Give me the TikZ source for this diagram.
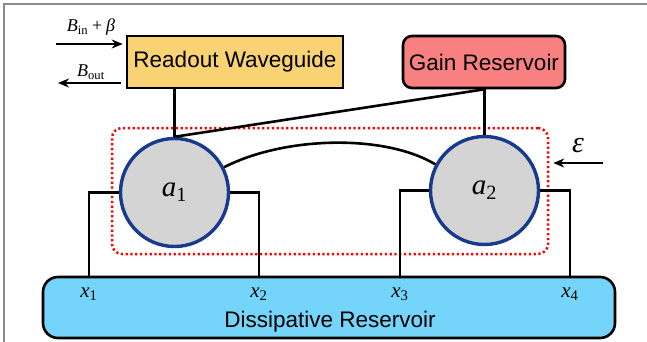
\documentclass[tikz,border=0pt]{standalone}
\usepackage{fontspec}
\setmainfont{Liberation Sans}
\newfontfamily\tms{Liberation Serif}
\newcommand\vsub[2]{{\tms\itshape #1}\textsubscript{\tms #2}}
\usetikzlibrary{arrows.meta}
\definecolor{roFill}{HTML}{F9D274}
\definecolor{gainFill}{HTML}{F88080}
\definecolor{bathFill}{HTML}{74D4FA}
\definecolor{modeFill}{HTML}{D4D4D4}
\definecolor{modeEdge}{HTML}{173A8C}
\definecolor{frameGray}{HTML}{8C8C8C}
\tikzset{
  boxlabel/.style={font=\fontsize{22.5}{24}\selectfont, text=black},
  roBox/.style={draw=black, line width=2.6pt, fill=roFill, boxlabel, minimum width=216pt, minimum height=52pt, inner sep=0pt},
  gainBox/.style={draw=black, line width=2.6pt, fill=gainFill, rounded corners=9pt, boxlabel, minimum width=162pt, minimum height=52pt, inner sep=0pt},
  bathBox/.style={draw=black, line width=2.6pt, fill=bathFill, rounded corners=15pt, minimum width=572pt, minimum height=61pt, inner sep=0pt},
  mode/.style={circle, draw=modeEdge, line width=3.4pt, fill=modeFill, minimum size=108pt, inner sep=0pt, font=\fontsize{29}{31}\selectfont},
  grpBox/.style={draw=red, line width=2.5pt, dash pattern=on 2.2pt off 2.6pt, rounded corners=10pt, minimum width=436pt, minimum height=126pt, inner sep=0pt},
  wire/.style={draw=black, line width=2.6pt},
  arr/.style={wire, -{Stealth[length=11pt,width=9pt]}},
  portlabel/.style={font=\fontsize{21}{23}\selectfont},
  sig/.style={font=\fontsize{18}{20}\selectfont}
}
\begin{document}
\begin{tikzpicture}[x=1pt,y=-1pt]
\useasboundingbox (0,0) rectangle (647,342);
% frame
\draw[frameGray, line width=1.2pt] (4,342) -- (4,4) -- (647,4);

\node[grpBox] (grp) at (330,191) {};
\node[bathBox] (bath) at (329,307.5) {};
\node[boxlabel] (bathtxt) at (330,322) {Dissipative Reservoir};

\node[roBox] (ro) at (235,62) {Readout Waveguide};
\node[gainBox] (gain) at (484,62) {Gain Reservoir};

\node[mode] (a1) at (174.5,192.5) {\vsub{a}{1}};
\node[mode] (a2) at (484.5,190.5) {\vsub{a}{2}};

% couplings
\draw[wire] (a1.north) -- (a1.north |- ro.south);
\draw[wire] (a2.north) -- (a2.north |- gain.south);
\draw[wire] (a1.north) -- (a2.north |- gain.south);
\draw[wire] (a1.27) .. controls (285,136) and (385,134) .. (a2.152);

% bath ports
\coordinate (p1) at (89,277);
\coordinate (p2) at (259,277);
\coordinate (p3) at (400,277);
\coordinate (p4) at (570,277);
\draw[wire] (a1.west) -| (p1);
\draw[wire] (a1.east) -| (p2);
\draw[wire] (a2.west) -| (p3);
\draw[wire] (a2.east) -| (p4);
\node[portlabel] (x1) at (89,294) {\vsub{x}{1}};
\node[portlabel] (x2) at (259,294) {\vsub{x}{2}};
\node[portlabel] (x3) at (400,294) {\vsub{x}{3}};
\node[portlabel] (x4) at (570,294) {\vsub{x}{4}};

% input/output
\coordinate (bin) at (56,44);
\coordinate (bout) at (58,83);
\draw[arr, shorten >=3pt] (bin) -- (bin -| ro.west);
\draw[arr, shorten <=5pt] (bout -| ro.west) -- (bout);
\node[sig] (binlbl) at (91,27) {\vsub{B}{in}\hspace{0.22em}{\tms +}\hspace{0.22em}{\tms\itshape β}};
\node[sig] (boutlbl) at (91,72) {\vsub{B}{out}};

% drive
\coordinate (eps) at (603,163);
\draw[arr, shorten >=4pt] (eps) -- (eps -| grp.east);
\node[font=\fontsize{30}{32}\selectfont] (epslbl) at (578,146) {{\tms\itshape ε}};
\end{tikzpicture}
\end{document}
